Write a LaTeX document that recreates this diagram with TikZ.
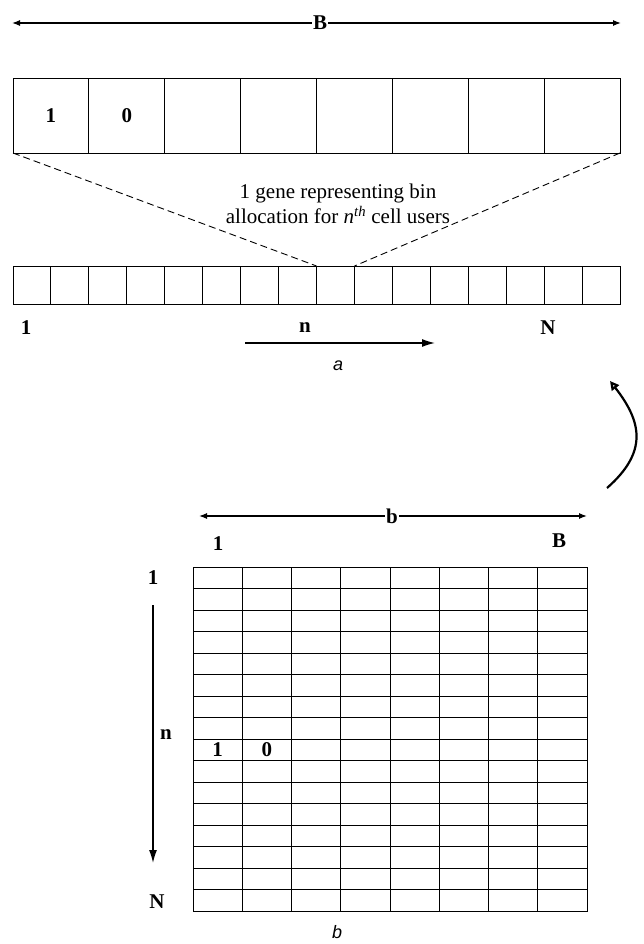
\documentclass[tikz,border=0pt]{standalone}
\usepackage{fontspec}
\setmainfont{Liberation Serif}
\newfontfamily\capfont{Liberation Sans}
\usetikzlibrary{arrows.meta}
\begin{document}
\begin{tikzpicture}[x=1pt,y=-1pt,
  lab/.style={font=\fontsize{21}{25}\selectfont\bfseries, inner sep=0pt},
  capt/.style={font=\capfont\itshape\fontsize{18}{22}\selectfont, inner sep=0pt},
  bigcell/.style={draw, line width=0.9pt, rectangle, inner sep=0pt, outer sep=0pt,
    minimum width=75.875pt, minimum height=75pt, anchor=north west},
  stripcell/.style={draw, line width=0.9pt, rectangle, inner sep=0pt, outer sep=0pt,
    minimum width=37.94pt, minimum height=38pt, anchor=north west},
  gridcell/.style={draw, line width=0.9pt, rectangle, inner sep=0pt, outer sep=0pt,
    minimum width=49.25pt, minimum height=21.5pt, anchor=north west},
  dimarrow/.style={line width=1.2pt, {Latex[length=8pt,width=6pt]}-{Latex[length=8pt,width=6pt]}},
  dirarrow/.style={line width=1.3pt, -{Latex[length=13pt,width=8pt]}},
  dashline/.style={line width=0.9pt, dash pattern=on 7pt off 4pt}]
\useasboundingbox (0,0) rectangle (644,944);
% ---------- part a ----------
\coordinate (tl) at (12,23);
\coordinate (tr) at (621,23);
\draw[dimarrow] (tl) -- (tr);
\node[lab, fill=white, inner sep=1pt] (Btop) at (320,23) {B};
\foreach \i in {1,...,8}{
  \node[bigcell] (t\i) at ({13+(\i-1)*75.875},78) {};
}
\node[lab] (t1v) at (t1.center) {1};
\node[lab] (t2v) at (t2.center) {0};
\foreach \i in {1,...,16}{
  \node[stripcell] (s\i) at ({13+(\i-1)*37.94},266) {};
}
\draw[dashline] (t1.south west) -- (s9.north west);
\draw[dashline] (t8.south east) -- (s9.north east);
\node[align=center, font=\fontsize{21}{25}\selectfont, inner sep=1pt] (gene) at (338,204)
  {1 gene representing bin\\allocation for \textit{n}\textsuperscript{\textit{th}} cell users};
\node[lab] (la1) at (26,328) {1};
\node[lab] (lan) at (305,328) {n};
\node[lab] (laN) at (548,328) {N};
\coordinate (na0) at (245,343);
\coordinate (na1) at (435,343);
\draw[dirarrow] (na0) -- (na1);
\node[capt] (capa) at (338,366) {a};
% ---------- curved arrow ----------
\coordinate (cv0) at (607,488);
\coordinate (cv1) at (610,381);
\draw[line width=2.2pt, -{Triangle[open,length=9pt,width=9pt]}] (cv0) .. controls (648,452) and (642,422) .. (cv1);
% ---------- part b ----------
\coordinate (bl) at (199,516);
\coordinate (br) at (587,516);
\draw[dimarrow] (bl) -- (br);
\node[lab, fill=white, inner sep=1pt] (bb) at (392,516) {b};
\node[lab] (c1) at (218,544) {1};
\node[lab] (cB) at (559,541) {B};
\foreach \r in {1,...,16}{
  \foreach \c in {1,...,8}{
    \node[gridcell] (g\r-\c) at ({193+(\c-1)*49.25},{567+(\r-1)*21.5}) {};
  }
}
\node[lab] (g1v) at (g9-1.center) {1};
\node[lab] (g0v) at (g9-2.center) {0};
\node[lab] (r1) at (153,578) {1};
\node[lab] (rn) at (166,735) {n};
\node[lab] (rN) at (157,902) {N};
\coordinate (va0) at (153,605);
\coordinate (va1) at (153,863);
\draw[dirarrow] (va0) -- (va1);
\node[capt] (capb) at (337,932) {b};
\end{tikzpicture}
\end{document}
